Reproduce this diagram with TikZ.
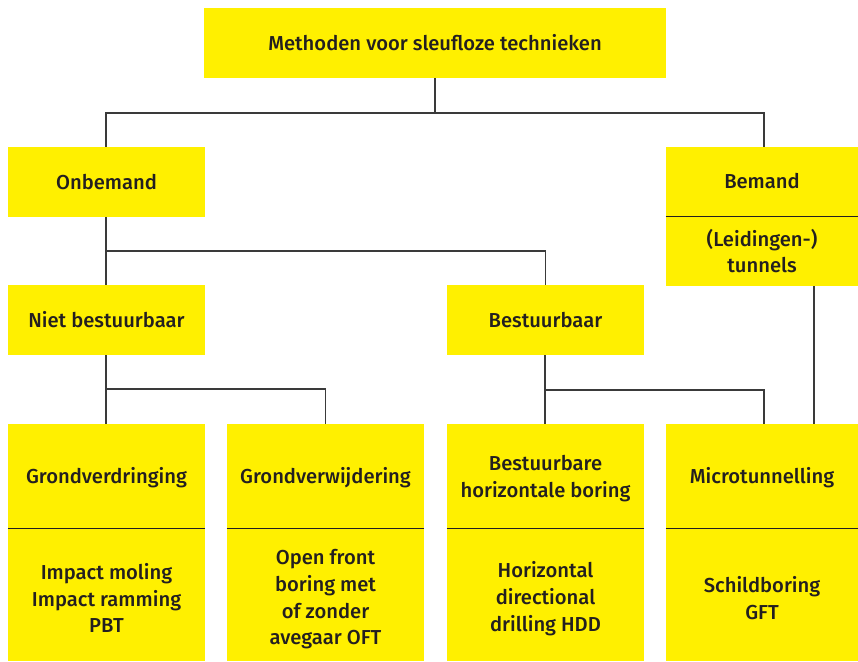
\documentclass[tikz,border=0pt]{standalone}
\usepackage{fontspec}
\setmainfont{Fira Sans Medium}
\definecolor{boxyellow}{HTML}{FFF000}
\definecolor{txt}{HTML}{231F20}
\definecolor{lin}{HTML}{3A3A3A}
\newcommand\lowstrut[1]{\rule{0pt}{#1}}
\begin{document}
\begin{tikzpicture}[x=1pt,y=-1pt,
  box/.style={fill=boxyellow,inner sep=0pt,align=center,text=txt,font=\fontsize{20.2}{26.7}\selectfont},
  conn/.style={draw=lin,line width=1.3pt},
  divline/.style={draw=txt,line width=1.4pt}]
\useasboundingbox (0,0) rectangle (858,661);
\node[box,minimum width=462,minimum height=70] (top) at (435,43) {Methoden voor sleufloze technieken};
\node[box,minimum width=197,minimum height=70] (onb) at (106.5,182) {Onbemand};
\node[box,minimum width=192,minimum height=69] (bem) at (762,181.5) {Bemand};
\node[box,minimum width=192,minimum height=70] (leid) at (762,251) {(Leidingen-)\\tunnels};
\node[box,minimum width=197,minimum height=70] (niet) at (106.5,320) {Niet bestuurbaar};
\node[box,minimum width=197,minimum height=70] (best) at (545.5,320) {Bestuurbaar};
\node[box,minimum width=197,minimum height=104] (gv) at (106.5,476) {\lowstrut{19pt}Grondverdringing};
\node[box,minimum width=197,minimum height=104] (gw) at (325.5,476) {\lowstrut{19pt}Grondverwijdering};
\node[box,minimum width=197,minimum height=104] (bhb) at (545.5,476) {\lowstrut{21pt}Bestuurbare\\horizontale boring};
\node[box,minimum width=192,minimum height=104] (micro) at (762,476) {\lowstrut{20pt}Microtunnelling};
\node[box,minimum width=197,minimum height=133] (gvb) at (106.5,594.5) {\lowstrut{23pt}Impact moling\\Impact ramming\\PBT};
\node[box,minimum width=197,minimum height=133] (gwb) at (325.5,594.5) {\lowstrut{25pt}Open front\\boring met\\of zonder\\avegaar OFT};
\node[box,minimum width=197,minimum height=133] (bhbb) at (545.5,594.5) {\lowstrut{24pt}Horizontal\\directional\\drilling HDD};
\node[box,minimum width=192,minimum height=133] (microb) at (762,594.5) {\lowstrut{23pt}Schildboring\\GFT};
% dividers
\draw[divline] (bem.south west) -- (bem.south east);
\draw[divline] (gv.south west) -- (gv.south east);
\draw[divline] (gw.south west) -- (gw.south east);
\draw[divline] (bhb.south west) -- (bhb.south east);
\draw[divline] (micro.south west) -- (micro.south east);
% connectors
\coordinate (j1) at (435,113);
\coordinate (j2) at (106,251);
\coordinate (j3) at (106,389);
\coordinate (j4) at (545,390);
\draw[conn] (top.south) -- (j1);
\draw[conn] ([xshift=-0.5]onb.north) |- (j1) -| ([xshift=2]bem.north);
\draw[conn] ([xshift=-0.5]onb.south) -- ([xshift=-0.5]niet.north);
\draw[conn] (j2) -| (best.north);
\draw[conn] ([xshift=-0.5]niet.south) -- ([xshift=-0.5]gv.north);
\draw[conn] (j3) -| (gw.north);
\draw[conn] ([xshift=-0.5]best.south) -- ([xshift=-0.5]bhb.north);
\draw[conn] (j4) -| ([xshift=2]micro.north);
\draw[conn] ([xshift=52]leid.south) -- ([xshift=52]micro.north);
\end{tikzpicture}
\end{document}
